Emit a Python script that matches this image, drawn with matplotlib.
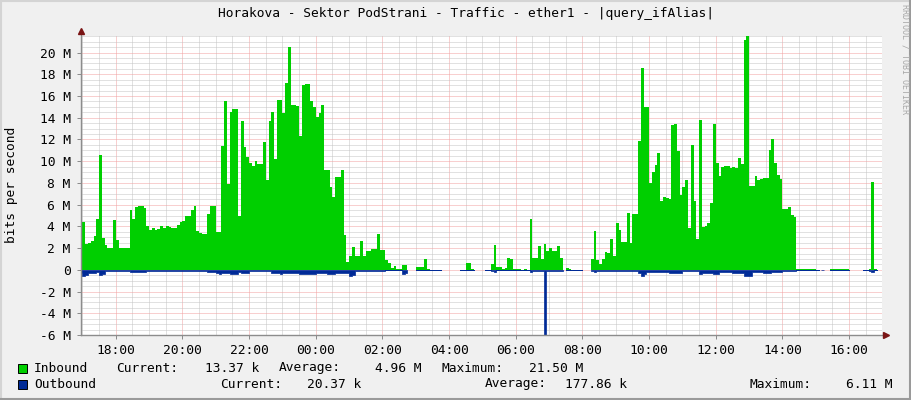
# -*- coding: utf-8 -*-
"""
Cacti / RRDtool style traffic graph - ether1, last 24 hours
"""

import numpy as np
import matplotlib
matplotlib.use("Agg")
import matplotlib.pyplot as plt
from matplotlib.patches import Rectangle
from matplotlib.ticker import MultipleLocator

nan = float("nan")

# ─────────────────────────────────────────────
# DATA  (5 minute samples in Mbit/s, first sample starts 16:55)
# one row = one hour, nan = no data
# ─────────────────────────────────────────────

START_HOUR = 16 + 55 / 60
STEP_HOURS = 5 / 60

inbound = [
    4.77, 4.4, 2.4, 2.5, 2.66, 3.1, 4.7, 10.6, 2.9, 2.3, 2.0, 2.0,
    4.6, 2.75, 2.0, 2.0, 2.0, 2.0, 5.5, 4.7, 5.75, 5.87, 5.87, 5.7,
    4.0, 3.7, 3.85, 3.7, 3.8, 4.0, 3.85, 4.0, 3.9, 3.85, 3.85, 4.15,
    4.4, 4.45, 4.95, 5.0, 5.55, 5.9, 3.6, 3.35, 3.3, 3.3, 5.1, 5.87,
    5.87, 3.5, 3.5, 11.4, 15.5, 7.86, 14.5, 14.8, 14.8, 4.95, 13.7, 11.3,
    10.4, 9.8, 9.6, 10.0, 9.7, 9.7, 11.8, 8.26, 13.7, 14.56, 10.2, 15.6,
    15.6, 14.4, 17.2, 20.5, 15.2, 15.2, 15.1, 12.35, 17.0, 17.1, 17.1, 15.5,
    15.0, 14.1, 14.4, 15.2, 9.2, 9.2, 7.6, 6.7, 8.56, 8.56, 9.2, 3.2,
    0.73, 1.3, 2.08, 1.28, 1.28, 2.66, 1.28, 1.77, 1.7, 1.9, 1.96, 3.3,
    1.83, 1.8, 0.9, 0.6, 0.15, 0.35, 0.06, 0.06, 0.46, 0.46, nan, nan,
    nan, 0.25, 0.25, 0.25, 1.0, 0.05, 0.0, 0.0, 0.0, 0.0, nan, nan,
    nan, nan, nan, nan, nan, 0.0, 0.0, 0.6, 0.6, 0.05, nan, nan,
    nan, nan, 0.0, 0.0, 0.55, 2.3, 0.3, 0.25, 0.05, 0.15, 1.1, 1.04,
    0.1, 0.05, 0.05, 0.0, 0.1, 0.0, 4.65, 1.1, 1.1, 2.2, 1.04, 2.4,
    1.77, 2.0, 1.77, 1.77, 2.2, 1.1, nan, 0.18, 0.12, 0.02, 0.0, 0.0,
    0.0, nan, nan, nan, 1.04, 3.6, 0.86, 0.55, 1.0, 1.6, 1.53, 2.85,
    1.3, 4.3, 3.67, 2.57, 2.57, 5.26, 2.5, 5.14, 5.14, 11.9, 18.6, 15.0,
    15.0, 8.0, 9.0, 9.66, 10.8, 6.36, 6.67, 6.6, 6.55, 13.3, 13.45, 10.9,
    6.85, 7.58, 8.26, 3.88, 11.5, 6.3, 2.8, 13.8, 3.98, 4.04, 4.28, 6.18,
    13.45, 9.79, 8.62, 9.48, 9.6, 9.6, 9.4, 9.45, 9.42, 10.3, 9.7, 21.2,
    21.5, 7.7, 7.7, 8.6, 8.26, 8.4, 8.5, 8.5, 11.07, 12.0, 9.8, 8.7,
    8.4, 5.6, 5.6, 5.75, 5.08, 4.83, 0.05, 0.05, 0.05, 0.05, 0.05, 0.05,
    0.05, 0.02, nan, 0.0, nan, nan, 0.08, 0.1, 0.1, 0.1, 0.1, 0.1,
    0.1, nan, nan, nan, nan, nan, 0.0, 0.0, 0.1, 8.07, 0.05, nan,
    nan,
]

# outbound is drawn below the zero line
outbound = [
    0.25, 0.55, 0.5, 0.25, 0.25, 0.25, 0.2, 0.45, 0.4, 0.15, 0.12, 0.12,
    0.12, 0.12, 0.12, 0.12, 0.12, 0.12, 0.18, 0.18, 0.18, 0.18, 0.18, 0.18,
    0.12, 0.12, 0.12, 0.12, 0.12, 0.12, 0.12, 0.12, 0.12, 0.12, 0.12, 0.12,
    0.12, 0.12, 0.12, 0.12, 0.12, 0.12, 0.12, 0.12, 0.12, 0.12, 0.2, 0.2,
    0.2, 0.3, 0.35, 0.3, 0.3, 0.3, 0.42, 0.42, 0.42, 0.2, 0.3, 0.3,
    0.3, 0.15, 0.15, 0.15, 0.15, 0.15, 0.15, 0.15, 0.15, 0.3, 0.3, 0.3,
    0.42, 0.3, 0.3, 0.3, 0.3, 0.3, 0.3, 0.37, 0.37, 0.37, 0.37, 0.37,
    0.37, 0.3, 0.3, 0.3, 0.3, 0.42, 0.42, 0.42, 0.25, 0.25, 0.25, 0.25,
    0.25, 0.55, 0.45, 0.12, 0.12, 0.12, 0.12, 0.12, 0.12, 0.12, 0.12, 0.12,
    0.12, 0.12, 0.06, 0.06, 0.06, 0.06, 0.06, 0.06, 0.37, 0.3, nan, nan,
    nan, 0.06, 0.06, 0.06, 0.06, 0.06, 0.03, 0.03, 0.03, 0.03, nan, nan,
    nan, nan, nan, nan, nan, 0.03, 0.03, 0.06, 0.06, 0.06, nan, nan,
    nan, nan, 0.03, 0.03, 0.12, 0.18, 0.06, 0.06, 0.06, 0.06, 0.06, 0.06,
    0.06, 0.06, 0.06, 0.06, 0.06, 0.06, 0.18, 0.12, 0.12, 0.12, 0.12, 6.11,
    0.12, 0.12, 0.12, 0.12, 0.12, 0.12, nan, 0.03, 0.03, 0.03, 0.03, 0.03,
    0.03, nan, nan, nan, 0.12, 0.18, 0.12, 0.12, 0.12, 0.12, 0.12, 0.12,
    0.12, 0.12, 0.12, 0.12, 0.12, 0.15, 0.15, 0.15, 0.15, 0.3, 0.6, 0.35,
    0.18, 0.18, 0.18, 0.18, 0.18, 0.18, 0.18, 0.18, 0.25, 0.25, 0.25, 0.25,
    0.25, 0.12, 0.12, 0.12, 0.12, 0.12, 0.12, 0.42, 0.25, 0.25, 0.25, 0.25,
    0.37, 0.37, 0.18, 0.18, 0.18, 0.18, 0.18, 0.3, 0.3, 0.3, 0.3, 0.55,
    0.55, 0.55, 0.2, 0.2, 0.2, 0.2, 0.3, 0.3, 0.3, 0.18, 0.18, 0.18,
    0.18, 0.12, 0.12, 0.12, 0.12, 0.12, 0.05, 0.05, 0.05, 0.05, 0.05, 0.05,
    0.05, 0.05, nan, 0.03, nan, nan, 0.05, 0.05, 0.05, 0.05, 0.05, 0.05,
    0.05, nan, nan, nan, nan, nan, 0.03, 0.03, 0.15, 0.2, 0.05, nan,
    nan,
]

TITLE = "Horakova - Sektor PodStrani - Traffic - ether1 - |query_ifAlias|"
Y_LABEL = "bits per second"

X_TICKS = [18, 20, 22, 24, 26, 28, 30, 32, 34, 36, 38, 40]
X_LABELS = ["18:00", "20:00", "22:00", "00:00", "02:00", "04:00",
            "06:00", "08:00", "10:00", "12:00", "14:00", "16:00"]
Y_TICKS = [-6, -4, -2, 0, 2, 4, 6, 8, 10, 12, 14, 16, 18, 20]
Y_LABELS = ["-6 M", "-4 M", "-2 M", "0", "2 M", "4 M", "6 M", "8 M",
            "10 M", "12 M", "14 M", "16 M", "18 M", "20 M"]

SERIES = ["Inbound", "Outbound"]
IN_STATS = ["13.37 k", "4.96 M", "21.50 M"]
OUT_STATS = ["20.37 k", "177.86 k", "6.11 M"]

# ─────────────────────────────────────────────
# STYLE
# ─────────────────────────────────────────────

GREEN = "#00cf00"
BLUE = "#002a97"
BACK = "#f0f0f0"
MGRID = "#f2a0a0"
GRID = "#c4c4c4"
AXIS = "#8c8c8c"
ARROW = "#7a1414"
FONT = "DejaVu Sans Mono"
FS = 9.3

W, H = 911, 400
PX_L, PX_R, PX_T, PX_B = 81, 882, 36.3, 335


def fx(px):
    return px / W


def fy(py):
    return 1 - py / H


# ─────────────────────────────────────────────
# PLOT
# ─────────────────────────────────────────────

fig = plt.figure(figsize=(W / 100, H / 100), dpi=100, facecolor=BACK)
ax = fig.add_axes([fx(PX_L), fy(PX_B), fx(PX_R - PX_L), (PX_B - PX_T) / H])
ax.set_facecolor("white")

# step shaped areas: every sample is a flat 5 minute block
edges = START_HOUR + np.arange(len(inbound) + 1) * STEP_HOURS
xs = np.column_stack([edges[:-1], edges[1:]]).ravel()
y_in = np.repeat(np.array(inbound, dtype=float), 2)
y_out = -np.repeat(np.array(outbound, dtype=float), 2)

ax.fill_between(xs, 0, y_in, color=GREEN, lw=0, zorder=3)
ax.fill_between(xs, 0, y_out, facecolor=BLUE, edgecolor=BLUE, lw=0.5, zorder=3)

ax.set_xlim(16.958, 40.988)
ax.set_ylim(-6, 21.5)

# grid
ax.xaxis.set_major_locator(MultipleLocator(2))
ax.xaxis.set_minor_locator(MultipleLocator(0.5))
ax.yaxis.set_major_locator(MultipleLocator(2))
ax.yaxis.set_minor_locator(MultipleLocator(0.5))
ax.set_xticks(X_TICKS)
ax.set_xticklabels(X_LABELS)
ax.set_yticks(Y_TICKS)
ax.set_yticklabels(Y_LABELS)
ax.set_axisbelow(True)
ax.grid(which="minor", color=GRID, lw=0.72, linestyle=(0, (1, 1)), zorder=0)
ax.grid(which="major", color=MGRID, lw=0.72, linestyle=(0, (1, 1)), zorder=1)

ax.tick_params(which="major", direction="out", length=3, width=0.72,
               color=AXIS, labelsize=FS, labelfontfamily=FONT)
ax.tick_params(axis="y", pad=4.5)
ax.tick_params(axis="x", pad=3.5)
ax.tick_params(which="minor", length=0)
for s in ax.spines.values():
    s.set_visible(False)

# axis lines with the little arrow heads
ax.plot([0, 0], [0, 1 + 4 / (PX_B - PX_T)], color=AXIS, lw=1,
        transform=ax.transAxes, clip_on=False, zorder=5)
ax.plot([0, 1 + 3 / (PX_R - PX_L)], [0, 0], color=AXIS, lw=1,
        transform=ax.transAxes, clip_on=False, zorder=5)
ax.plot([0], [1 + 5 / (PX_B - PX_T)], marker="^", ms=4, color=ARROW,
        transform=ax.transAxes, clip_on=False, zorder=6)
ax.plot([1 + 4 / (PX_R - PX_L)], [0], marker=">", ms=4, color=ARROW,
        transform=ax.transAxes, clip_on=False, zorder=6)

# title, unit label, watermark
fig.text(fx(466), fy(14), TITLE, ha="center", va="center",
         family=FONT, fontsize=FS)
fig.text(fx(12), fy(185), Y_LABEL, ha="center", va="center",
         rotation=90, family=FONT, fontsize=FS)
fig.text(fx(905), fy(4), "RRDTOOL / TOBI OETIKER", ha="center", va="top",
         rotation=-90, family=FONT, fontsize=6, color="#a8a8a8")

# legend rows
rows = [
    (368, GREEN, SERIES[0], [116, 205, 279, 375, 441, 529],
     ["Current:", IN_STATS[0], "Average:", IN_STATS[1], "Maximum:", IN_STATS[2]]),
    (384, BLUE, SERIES[1], [220, 307, 485, 565, 750, 846],
     ["Current:", OUT_STATS[0], "Average:", OUT_STATS[1], "Maximum:", OUT_STATS[2]]),
]
for py, col, name, xpos, words in rows:
    fig.patches.append(Rectangle((fx(18), fy(py + 5)), 9 / W, 9 / H,
                                 facecolor=col, edgecolor="black", lw=0.7,
                                 transform=fig.transFigure, figure=fig))
    fig.text(fx(34), fy(py), name, ha="left", va="center",
             family=FONT, fontsize=FS)
    for px, w in zip(xpos, words):
        fig.text(fx(px), fy(py), w, ha="left", va="center",
                 family=FONT, fontsize=FS)

# image frame
fig.add_artist(plt.Line2D([0, 1], [1 - 1 / H, 1 - 1 / H], color="#d4d4d4", lw=1.5))
fig.add_artist(plt.Line2D([1 / W, 1 / W], [0, 1], color="#d4d4d4", lw=1.5))
fig.add_artist(plt.Line2D([0, 1], [1 / H, 1 / H], color="#9a9a9a", lw=1.5))
fig.add_artist(plt.Line2D([1 - 1 / W, 1 - 1 / W], [0, 1], color="#9a9a9a", lw=1.5))

fig.savefig("out.png", dpi=100, facecolor=BACK)
plt.close(fig)
